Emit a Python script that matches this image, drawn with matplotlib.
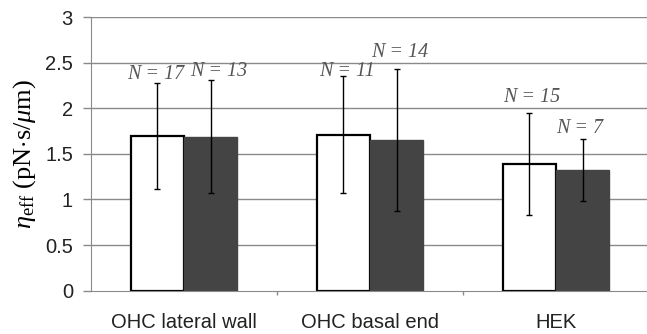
import matplotlib
matplotlib.use("Agg")
import matplotlib.pyplot as plt
import numpy as np

categories = ["OHC lateral wall", "OHC basal end", "HEK"]
white_vals = [1.70, 1.71, 1.39]
white_err = [0.58, 0.64, 0.555]
dark_vals = [1.69, 1.65, 1.32]
dark_err = [0.62, 0.78, 0.34]
white_n = ["N = 17", "N = 11", "N = 15"]
dark_n = ["N = 13", "N = 14", "N = 7"]
yticks = [0, 0.5, 1, 1.5, 2, 2.5, 3]
ytick_labels = ["0", "0.5", "1", "1.5", "2", "2.5", "3"]

plt.rcParams['mathtext.fontset'] = 'custom'
plt.rcParams['mathtext.rm'] = 'Liberation Serif'
plt.rcParams['mathtext.it'] = 'Liberation Serif:italic'

fig = plt.figure(figsize=(6.47, 3.34), dpi=100)
ax = fig.add_axes([91/647, 1 - 290.7/334, 558/647, (290.7 - 17)/334])

x = np.arange(len(categories)) + 0.5
w = 0.285
gray = "#8a8a8a"

for y in yticks[1:]:
    ax.axhline(y, color=gray, lw=1.0, zorder=0)

ax.bar(x - w/2, white_vals, w, color="white", edgecolor="black", lw=1.6, zorder=2)
ax.bar(x + w/2, dark_vals, w, color="#444444", edgecolor="#444444", lw=1.0, zorder=2)
ax.errorbar(x - w/2, white_vals, yerr=white_err, fmt="none", ecolor="black",
            elinewidth=1.0, capsize=2.5, capthick=1.0, zorder=3)
ax.errorbar(x + w/2, dark_vals, yerr=dark_err, fmt="none", ecolor="black",
            elinewidth=1.0, capsize=2.5, capthick=1.0, zorder=3)

# N labels
white_label_y = [2.37, 2.40, 2.12]
dark_label_y = [2.40, 2.61, 1.78]
white_dx = [-0.01, 0.02, 0.01]
dark_dx = [0.045, 0.02, -0.015]
for i in range(len(categories)):
    ax.text(x[i] - w/2 + white_dx[i], white_label_y[i], white_n[i], ha="center", va="center",
            fontsize=14.5, family="Liberation Serif", style="italic", color="#555555", zorder=4)
    ax.text(x[i] + w/2 + dark_dx[i], dark_label_y[i], dark_n[i], ha="center", va="center",
            fontsize=14.5, family="Liberation Serif", style="italic", color="#555555", zorder=4)

ax.set_xlim(0, 3)
ax.set_ylim(0, 3)
ax.set_yticks(yticks)
ax.set_yticklabels(ytick_labels, family="Liberation Sans", fontsize=14.5, color="#222222")
ax.tick_params(axis="y", length=6, color=gray, width=1.0, pad=7)

ax.set_xticks([1, 2])
ax.set_xticklabels(["", ""])
ax.tick_params(axis="x", which="major", length=3, color=gray, width=1.0)
ax.set_xticks(x, minor=True)
ax.set_xticklabels(categories, minor=True, family="Liberation Sans", fontsize=14.5, color="#222222")
ax.tick_params(axis="x", which="minor", length=0, pad=16)

for s in ["top", "right"]:
    ax.spines[s].set_visible(False)
ax.spines["left"].set_color(gray)
ax.spines["bottom"].set_color(gray)

ax.set_ylabel(r"$\mathit{\eta}_{\rm eff}$ (pN$\cdot$s/$\mu$m)", fontsize=19,
              family="Liberation Serif", labelpad=5)

fig.savefig("out.png", dpi=100)
